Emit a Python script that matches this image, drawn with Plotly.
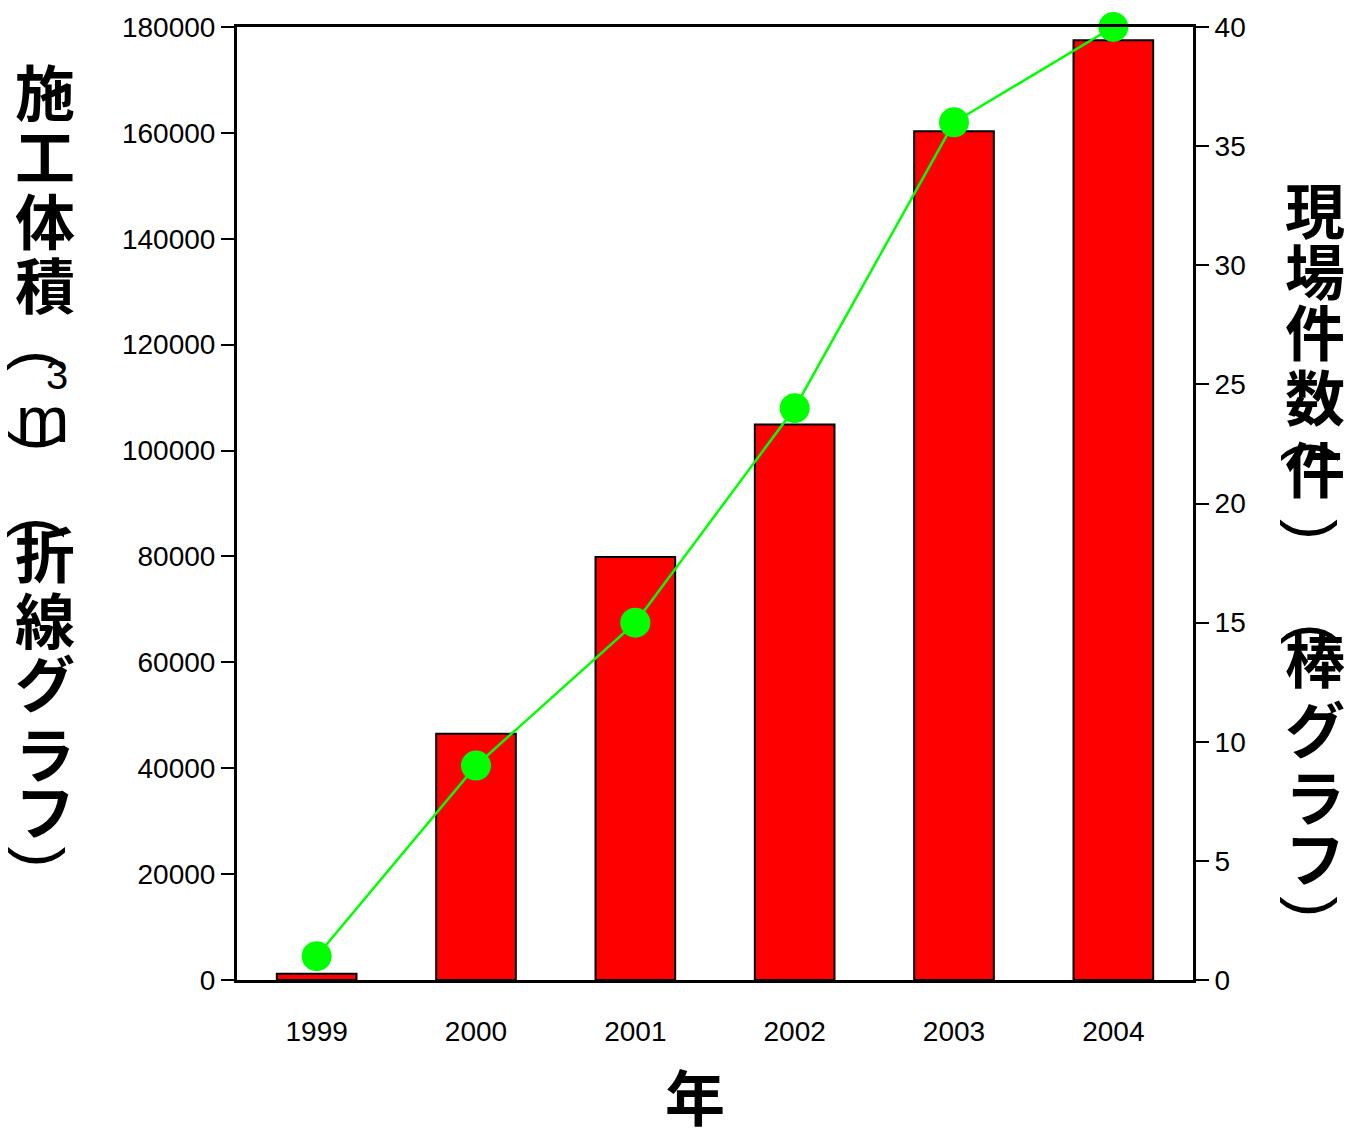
import plotly.graph_objects as go

years = ["1999", "2000", "2001", "2002", "2003", "2004"]
volume = [1200, 46500, 79900, 104900, 160300, 177500]   # 施工体積 (m3) - bars, left axis
sites = [1, 9, 15, 24, 36, 40]                          # 現場件数 (件) - line, right axis

left_title = ["施", "工", "体", "積", "(", "m", ")", "(", "折", "線", "グ", "ラ", "フ", ")"]
right_title = ["現", "場", "件", "数", "(", "件", ")", "(", "棒", "グ", "ラ", "フ", ")"]
x_title = "年"

# plot area in pixels
L, R, T, B = 237, 1193, 22, 980
W, H = 1352, 1131

TICKFONT = dict(family="Liberation Sans, Arial", size=28, color="black")
CJK = "Noto Sans CJK JP"

fig = go.Figure()
fig.add_trace(go.Bar(
    x=years, y=volume, yaxis="y",
    marker=dict(color="#ff0000", line=dict(color="black", width=2)),
    width=0.5, showlegend=False,
))
fig.add_trace(go.Scatter(
    x=years, y=sites, yaxis="y2", mode="lines+markers",
    line=dict(color="#00ff00", width=2.5),
    marker=dict(color="#00ff00", size=30, symbol="circle"),
    cliponaxis=False, showlegend=False,
))

def px(x):
    return (x - L) / (R - L)

def py(y):
    return (B - y) / (B - T)

annotations = []

def char(text, x, y, size=60, angle=0, family=CJK, bold=True):
    t = f"<b>{text}</b>" if bold else text
    annotations.append(dict(
        text=t, x=px(x), y=py(y), xref="paper", yref="paper",
        showarrow=False, xanchor="center", yanchor="middle",
        textangle=angle, font=dict(family=family, size=size, color="black"),
    ))

CJK_SHIFT = -8

# left vertical title
left_pos = [93, 157, 223, 287, 357, 421, 438, 525, 557, 624, 687, 758, 816, 856]
for c, y in zip(left_title, left_pos):
    if c in "()":
        char(c, 42, y, size=62, angle=90, family="Liberation Sans", bold=False)
    elif c == "m":
        char(c, 42, y - 4, size=64, family="Liberation Sans", bold=False)
    else:
        char(c, 45, y + CJK_SHIFT)
char("3", 57, 372, size=40, family="Liberation Sans", bold=False)

# right vertical title
right_pos = [211, 273, 334, 399, 448, 472, 527, 632, 663, 733, 802, 863, 906]
for c, y in zip(right_title, right_pos):
    if c in "()":
        char(c, 1315, y, size=62, angle=90, family="Liberation Sans", bold=False)
    else:
        char(c, 1315, y + CJK_SHIFT)

# x title
char(x_title, 695, 1101 + CJK_SHIFT + 2)

fig.update_layout(
    width=W, height=H,
    margin=dict(l=L, r=W - R, t=T, b=H - B, pad=0),
    plot_bgcolor="white", paper_bgcolor="white",
    bargap=0.5,
    xaxis=dict(
        type="category", showline=True, linecolor="black", linewidth=3, mirror=True,
        ticks="", showgrid=False, tickfont=TICKFONT, ticklabelstandoff=24,
    ),
    yaxis=dict(
        range=[0, 180000], dtick=20000, tickformat="d", showline=True, linecolor="black",
        linewidth=3, ticks="outside", ticklen=13, tickwidth=2, tickcolor="black",
        showgrid=False, zeroline=False, tickfont=TICKFONT,
    ),
    yaxis2=dict(
        range=[0, 40], dtick=5, overlaying="y", side="right", showline=True,
        linecolor="black", linewidth=3, ticks="outside", ticklen=13, tickwidth=2,
        tickcolor="black", showgrid=False, zeroline=False, tickfont=TICKFONT,
    ),
    annotations=annotations,
)

fig.write_html("out.html")
